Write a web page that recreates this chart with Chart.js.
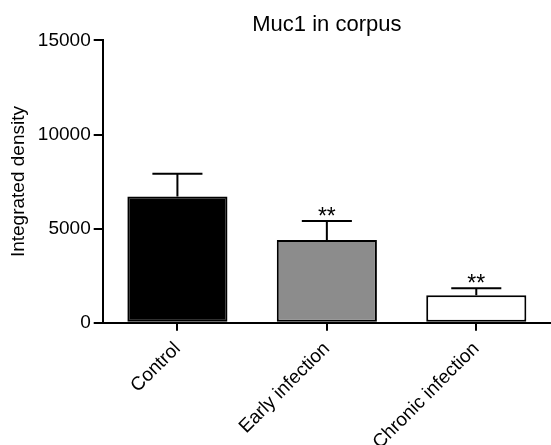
<!DOCTYPE html>
<html>
<head>
<meta charset="utf-8">
<script src="https://cdn.jsdelivr.net/npm/chart.js@4.4.0/dist/chart.umd.min.js"></script>
<style>
    html, body { margin: 0; padding: 0; background: #fff; }
    #wrap { width: 551px; height: 445px; }
</style>
</head>
<body>
<div id="wrap"><canvas id="chart" width="551" height="445"></canvas></div>
<script>
// values
const groups = ['Control', 'Early infection', 'Chronic infection'];
const means = [6700, 4400, 1460];
const sems = [1220, 1010, 370];
const stars = ['', '**', '**'];
const barColors = ['#000000', '#8c8c8c', '#ffffff'];
const yTicks = [0, 5000, 10000, 15000];

const FONT = "'Liberation Sans', Arial, sans-serif";

// upward-only error bars with caps, plus significance marks
const errorBars = {
    id: 'errorBars',
    afterDatasetsDraw(chart) {
        const ctx = chart.ctx;
        const y = chart.scales.y;
        const meta = chart.getDatasetMeta(0);
        ctx.save();
        ctx.strokeStyle = '#000';
        ctx.lineWidth = 2;
        for (let i = 0; i < means.length; i++) {
            let bar = meta.data[i];
            let yMean = y.getPixelForValue(means[i]);
            let yTop = y.getPixelForValue(means[i] + sems[i]);
            let half = bar.width / 4;
            ctx.beginPath();
            ctx.moveTo(bar.x, yMean);
            ctx.lineTo(bar.x, yTop);
            ctx.moveTo(bar.x - half, yTop);
            ctx.lineTo(bar.x + half, yTop);
            ctx.stroke();
            if (stars[i]) {
                ctx.fillStyle = '#000';
                ctx.font = "23px " + FONT;
                ctx.textAlign = 'center';
                ctx.textBaseline = 'alphabetic';
                ctx.fillText(stars[i], bar.x, yTop + 3);
            }
        }
        ctx.restore();
    }
};

new Chart(document.getElementById('chart'), {
    type: 'bar',
    data: {
        labels: groups,
        datasets: [{
            data: means,
            backgroundColor: barColors,
            borderColor: '#000',
            borderWidth: 2,
            borderSkipped: false,
            barPercentage: 0.67,
            categoryPercentage: 1
        }]
    },
    options: {
        responsive: false,
        animation: false,
        layout: { padding: 0 },
        plugins: {
            legend: { display: false },
            tooltip: { enabled: false },
            title: {
                display: true,
                text: 'Muc1 in corpus',
                fullSize: false,
                color: '#000',
                font: { family: FONT, size: 22, weight: 'normal' },
                padding: { top: 12, bottom: 2 }
            }
        },
        scales: {
            x: {
                offset: true,
                afterFit(scale) { scale.height = 445 - 322.7; },
                border: { display: true, color: '#000', width: 2 },
                grid: { display: true, offset: false, drawOnChartArea: false, color: '#000', lineWidth: 2, tickLength: 8 },
                ticks: {
                    autoSkip: false,
                    maxRotation: 45,
                    minRotation: 45,
                    padding: 7,
                    color: '#000',
                    font: { family: FONT, size: 19 }
                }
            },
            y: {
                min: 0,
                max: 15000,
                afterFit(scale) { scale.width = 102.7; },
                afterBuildTicks(scale) { scale.ticks = yTicks.map(v => ({ value: v })); },
                border: { display: true, color: '#000', width: 2 },
                grid: { display: true, drawOnChartArea: false, color: '#000', lineWidth: 2, tickLength: 9 },
                ticks: {
                    padding: 3,
                    color: '#000',
                    font: { family: FONT, size: 19 },
                    callback: (v) => String(v)
                },
                title: {
                    display: true,
                    text: 'Integrated density',
                    color: '#000',
                    font: { family: FONT, size: 19 },
                    padding: { top: 7, bottom: 0 }
                }
            }
        }
    },
    plugins: [errorBars]
});
</script>
</body>
</html>
